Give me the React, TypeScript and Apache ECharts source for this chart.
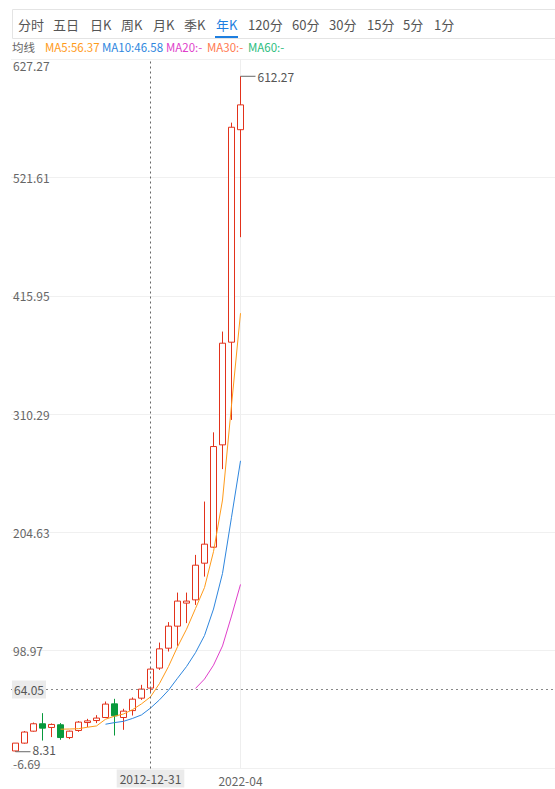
import React, { useEffect, useRef } from 'react';
import * as echarts from 'echarts';

const dates = [
  '1997-12-31', '1998-12-31', '1999-12-31', '2000-12-31', '2001-12-31', '2002-12-31',
  '2003-12-31', '2004-12-31', '2005-12-31', '2006-12-31', '2007-12-31', '2008-12-31',
  '2009-12-31', '2010-12-31', '2011-12-31', '2012-12-31', '2013-12-31', '2014-12-31',
  '2015-12-31', '2016-12-31', '2017-12-31', '2018-12-31', '2019-12-31', '2020-12-31',
  '2021-12-31', '2022-04-29',
];
const opens = [9.0, 16.0, 26.7, 33.3, 30.0, 32.4, 21.0, 27.3, 34.4, 36.2, 38.9, 51.1, 38.9, 45.1, 56.2, 65.2, 83.1, 100.9, 120.6, 141.2, 144.1, 176.9, 191.2, 282.7, 374.5, 564.5];
const closes = [16.0, 25.9, 33.3, 29.4, 32.7, 21.0, 26.7, 34.8, 35.9, 38.4, 50.9, 40.4, 44.6, 55.3, 64.3, 82.2, 100.3, 120.6, 143.0, 143.0, 175.1, 193.9, 281.2, 373.6, 566.7, 586.7];
const lows = [8.31, 15.5, 26.2, 18.3, 21.4, 19.0, 19.6, 26.1, 30.3, 33.9, 38.6, 22.8, 27.9, 40.7, 54.7, 60.7, 81.5, 97.9, 103.0, 123.3, 139.6, 164.9, 190.5, 261.0, 305.0, 468.4];
const highs = [16.0, 26.8, 34.4, 42.8, 33.6, 33.9, 27.2, 35.7, 37.7, 41.0, 53.2, 55.6, 46.7, 56.9, 68.1, 83.1, 105.9, 124.2, 150.6, 150.6, 184.3, 232.0, 293.9, 384.0, 570.8, 612.27];

const yTicks = [-6.69, 98.97, 204.63, 310.29, 415.95, 521.61, 627.27];
const crossDate = '2012-12-31';
const crossValue = 64.05;

const tabs = ['分时', '五日', '日K', '周K', '月K', '季K', '年K', '120分', '60分', '30分', '15分', '5分', '1分'];
const tabX = [18, 53, 90, 121, 153, 184, 216, 248, 292, 329, 367, 403, 434];
const activeTab = '年K';

const legendTexts = ['均线', 'MA5:56.37', 'MA10:46.58', 'MA20:-', 'MA30:-', 'MA60:-'];
const legendX = [12, 45, 102, 166, 207, 248];
const legendColors = ['#666666', '#ff9b1a', '#2e86de', '#e03fcb', '#ff7a50', '#2dbd7e'];

const maPeriods = [5, 10, 20];
const maColors = ['#ff9b1a', '#2e86de', '#e03fcb'];

const UP = '#e2321b';
const DOWN = '#08993c';
const FONT = '"Noto Sans CJK SC", "Noto Sans", sans-serif';

function movingAverage(n: number) {
  return closes.map((_, i) => {
    if (i < n) return '-';
    let s = 0;
    for (let k = i - n + 1; k <= i; k++) s += closes[k];
    return +(s / n).toFixed(2);
  });
}

export default function App() {
  const ref = useRef<HTMLDivElement>(null);
  useEffect(() => {
    if (!ref.current) return;
    const chart = echarts.init(ref.current, null, { renderer: 'svg' });
    const candle = dates.map((_, i) => [opens[i], closes[i], lows[i], highs[i]]);
    let maxIdx = 0;
    let minIdx = 0;
    highs.forEach((h, i) => { if (h > highs[maxIdx]) maxIdx = i; });
    lows.forEach((l, i) => { if (l < lows[minIdx]) minIdx = i; });
    const last = dates[dates.length - 1];

    const graphics: any[] = [
      {
        type: 'rect', shape: { x: 12.5, y: 9.5, width: 560, height: 29 },
        style: { fill: '#fff', stroke: '#e4e4e4', lineWidth: 1 }, silent: true,
      },
    ];
    tabs.forEach((t, i) => {
      graphics.push({
        type: 'text', x: tabX[i], y: 24, silent: true,
        style: {
          text: t, fill: t === activeTab ? '#1e7fe0' : '#555555',
          font: `13px ${FONT}`, verticalAlign: 'middle', align: 'left',
        },
      });
    });
    const ai = tabs.indexOf(activeTab);
    graphics.push({
      type: 'rect', shape: { x: tabX[ai] - 1, y: 36, width: 23, height: 2 },
      style: { fill: '#1e7fe0' }, silent: true,
    });
    legendTexts.forEach((t, i) => {
      graphics.push({
        type: 'text', x: legendX[i], y: 47, silent: true,
        style: { text: t, fill: legendColors[i], font: `11.5px ${FONT}`, verticalAlign: 'middle', align: 'left' },
      });
    });

    const option: any = {
      animation: false,
      textStyle: { fontFamily: FONT },
      graphic: graphics,
      grid: { left: 11, right: -5, top: 59.5, height: 709, containLabel: false, outerBoundsMode: 'none' },
      xAxis: {
        type: 'category',
        data: dates,
        max: 60,
        boundaryGap: true,
        axisLine: { show: false },
        axisTick: { show: false },
        splitLine: { show: false },
        axisLabel: {
          interval: (idx: number, val: string) => val === last,
          formatter: (v: string) => (v ? v.slice(0, 7) : ''),
          color: '#666', fontSize: 12, margin: 6,
        },
        axisPointer: {
          show: true, type: 'line', value: dates.indexOf(crossDate), status: 'show', snap: true,
          lineStyle: { color: '#666', width: 1, type: [2, 3] },
          label: {
            show: true, backgroundColor: '#ebebeb', color: '#555', fontSize: 12,
            padding: [3, 3], margin: 1, borderRadius: 0,
          },
        },
      },
      yAxis: {
        type: 'value',
        min: yTicks[0],
        max: yTicks[yTicks.length - 1],
        axisLine: { show: false },
        axisTick: { show: false, customValues: yTicks },
        splitLine: { show: true, lineStyle: { color: '#f0f0f0', width: 1 } },
        axisLabel: {
          inside: true, customValues: yTicks, margin: 2, color: '#666', fontSize: 12, lineHeight: 11,
          formatter: (v: number) => v.toFixed(2),
          verticalAlignMinLabel: 'bottom', verticalAlignMaxLabel: 'top',
        },
        axisPointer: {
          show: true, type: 'line', value: crossValue, status: 'show', snap: false,
          lineStyle: { color: '#888', width: 1, type: [2, 3] },
          label: {
            show: true, backgroundColor: '#ebebeb', color: '#555', fontSize: 12,
            padding: [3, 2], margin: 1, borderRadius: 0,
            formatter: (p: any) => Number(p.value).toFixed(2),
          },
        },
      },
      series: [
        {
          type: 'candlestick',
          data: candle,
          barWidth: 6,
          z: 2,
          itemStyle: {
            color: '#ffffff', color0: DOWN, borderColor: UP, borderColor0: DOWN, borderWidth: 1,
          },
          markPoint: {
            silent: true,
            symbol: 'rect', symbolSize: [15, 1], symbolOffset: [7.5, 0],
            itemStyle: { color: '#666' },
            label: {
              show: true, position: 'right', distance: 2, color: '#555', fontSize: 12, lineHeight: 10,
              formatter: (p: any) => Number(p.value).toFixed(2),
            },
            data: [
              { coord: [dates[maxIdx], highs[maxIdx]], value: highs[maxIdx] },
              {
                coord: [dates[minIdx], lows[minIdx]], value: lows[minIdx],
                label: { offset: [0, -2] },
              },
            ],
          },
          markLine: {
            silent: true, symbol: 'none', label: { show: false }, z: 0,
            lineStyle: { color: '#eeeeee', type: 'solid', width: 1 },
            data: [{ xAxis: last }],
          },
        },
        ...maPeriods.map((n, k) => ({
          type: 'line',
          name: 'MA' + n,
          data: movingAverage(n),
          showSymbol: false,
          symbol: 'none',
          smooth: false,
          silent: true,
          lineStyle: { color: maColors[k], width: 1 },
          z: 3,
        })),
      ],
    };
    chart.setOption(option);
    return () => chart.dispose();
  }, []);
  return (
    <div
      ref={ref}
      style={{ position: 'fixed', left: 0, top: 0, width: 555, height: 789, background: '#fff' }}
    />
  );
}
